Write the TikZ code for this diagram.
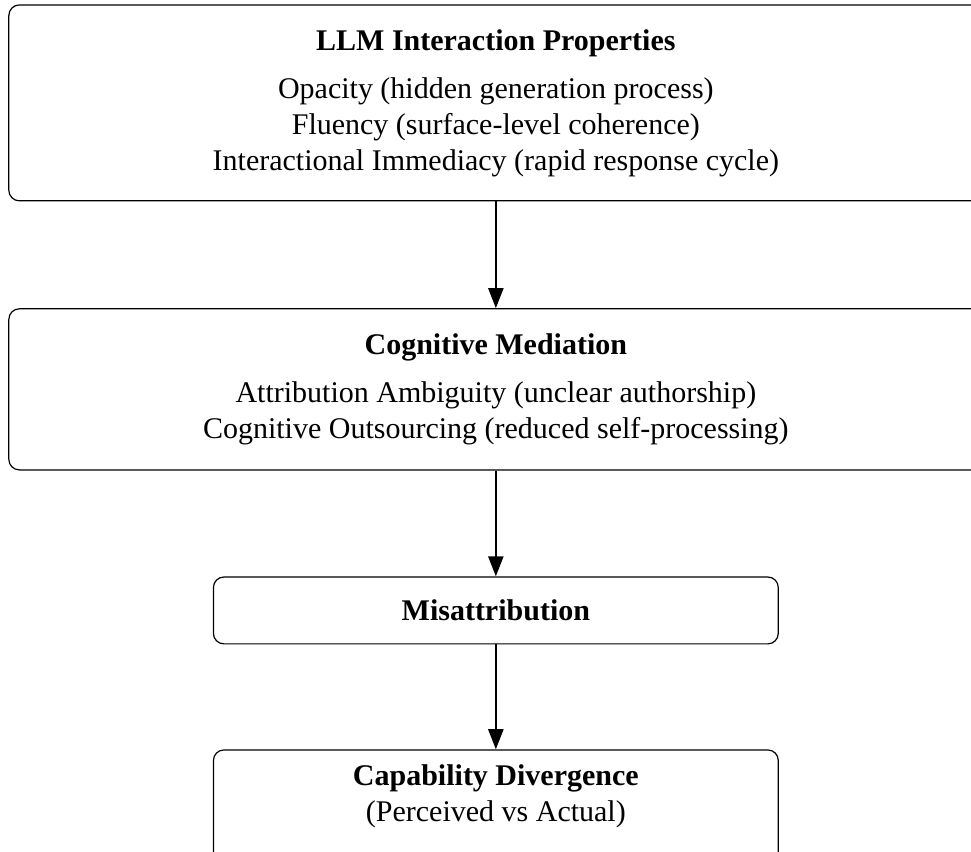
\documentclass[tikz,border=0pt]{standalone}
\usepackage{fontspec}
\setmainfont{Liberation Serif}
\usetikzlibrary{arrows.meta}

\begin{document}
\begin{tikzpicture}[stage/.style={draw,rounded corners=3.5pt,align=center,inner sep=0pt},
                    link/.style={-{Triangle[length=6.7pt,width=5pt]},thick}]
      \useasboundingbox (0pt,0pt) rectangle (323.7pt,-284pt);
      \node[stage,minimum width=324.7pt,minimum height=65.3pt] (props) at (165.3pt,-34.3pt)
        {\textbf{LLM Interaction Properties}\\[4pt]
         Opacity (hidden generation process)\\
         Fluency (surface-level coherence)\\
         Interactional Immediacy (rapid response cycle)};
      \node[stage,minimum width=324.7pt,minimum height=53.7pt] (mediation) at (165.3pt,-129.8pt)
        {\textbf{Cognitive Mediation}\\[4pt]
         Attribution Ambiguity (unclear authorship)\\
         Cognitive Outsourcing (reduced self-processing)};
      \node[stage,minimum width=188.3pt,minimum height=22.3pt] (misattr) at (165.3pt,-203.5pt)
        {\textbf{Misattribution}};
      \node[stage,minimum width=188.3pt,minimum height=40pt] (diverge) at (165.3pt,-270pt)
        {\textbf{Capability Divergence}\\
         (Perceived vs Actual)\rule[-11.3pt]{0pt}{11.3pt}};

      \draw[link] (props) -- (mediation);
      \draw[link] (mediation) -- (misattr);
      \draw[link] (misattr) -- (diverge);
    \end{tikzpicture}
\end{document}
